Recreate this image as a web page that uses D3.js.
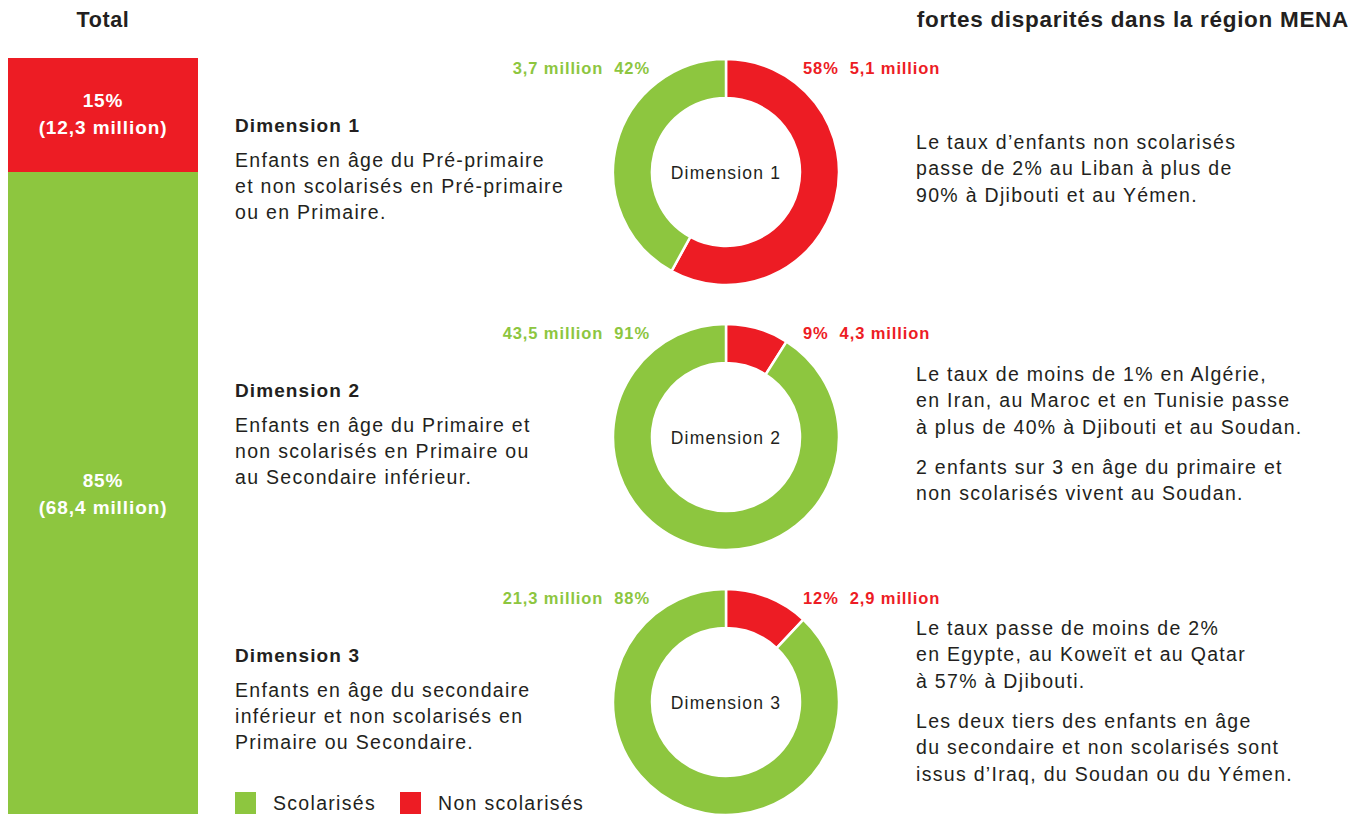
<!DOCTYPE html>
<html>
<head>
<meta charset="utf-8">
<script src="https://cdn.jsdelivr.net/npm/d3@7"></script>
<style>
  body { margin: 0; background: #fff; }
  svg { display: block; font-family: "Liberation Sans", Arial, sans-serif; }
  .body-text { font-size: 19.5px; letter-spacing: 1.3px; fill: #231f20; }
</style>
</head>
<body>
<div id="chart"></div>
<script>
// Dimensions shown as donuts
const categories = ["Dimension 1", "Dimension 2", "Dimension 3"];
const scolarisesPct = [42, 91, 88];
const nonScolarisesPct = [58, 9, 12];
const scolarisesMillions = ["3,7", "43,5", "21,3"];
const nonScolarisesMillions = ["5,1", "4,3", "2,9"];

// Total bar (non scolarisés, scolarisés)
const totalPct = [15, 85];
const totalMillions = ["12,3", "68,4"];

const descriptions = [
  ["Enfants en âge du Pré-primaire", "et non scolarisés en Pré-primaire", "ou en Primaire."],
  ["Enfants en âge du Primaire et", "non scolarisés en Primaire ou", "au Secondaire inférieur."],
  ["Enfants en âge du secondaire", "inférieur et non scolarisés en", "Primaire ou Secondaire."]
];
const notes = [
  [["Le taux d’enfants non scolarisés", "passe de 2% au Liban à plus de", "90% à Djibouti et au Yémen."]],
  [["Le taux de moins de 1% en Algérie,", "en Iran, au Maroc et en Tunisie passe", "à plus de 40% à Djibouti et au Soudan."],
   ["2 enfants sur 3 en âge du primaire et", "non scolarisés vivent au Soudan."]],
  [["Le taux passe de moins de 2%", "en Egypte, au Koweït et au Qatar", "à 57% à Djibouti."],
   ["Les deux tiers des enfants en âge", "du secondaire et non scolarisés sont", "issus d’Iraq, du Soudan ou du Yémen."]]
];
const legendLabels = ["Scolarisés", "Non scolarisés"];

const RED = "#ed1c24", GREEN = "#8dc63f", INK = "#231f20";
const W = 1365, H = 814;

const svg = d3.select("#chart").append("svg")
  .attr("width", W).attr("height", H);

// Titles
svg.append("text")
  .attr("x", 103).attr("y", 27)
  .attr("text-anchor", "middle")
  .style("font-size", "21.5px").style("font-weight", "bold").style("letter-spacing", "0.6px")
  .attr("fill", INK)
  .text("Total");

svg.append("text")
  .attr("x", 1349).attr("y", 27)
  .attr("text-anchor", "end")
  .style("font-size", "22.5px").style("font-weight", "bold").style("letter-spacing", "0.7px")
  .attr("fill", INK)
  .text("fortes disparités dans la région MENA");

// Total stacked bar
const yBar = d3.scaleLinear().domain([0, 100]).range([58, 818]);
const barSegs = [
  { start: 0, end: totalPct[0], color: RED, pct: totalPct[0], mil: totalMillions[0] },
  { start: totalPct[0], end: totalPct[0] + totalPct[1], color: GREEN, pct: totalPct[1], mil: totalMillions[1] }
];
const bar = svg.append("g");
bar.selectAll("rect").data(barSegs).enter().append("rect")
  .attr("x", 8).attr("width", 190)
  .attr("y", d => yBar(d.start))
  .attr("height", d => yBar(d.end) - yBar(d.start))
  .attr("fill", d => d.color);

const barLabels = bar.selectAll("text").data(barSegs).enter().append("text")
  .attr("text-anchor", "middle")
  .attr("fill", "#fff")
  .style("font-size", "19px").style("font-weight", "bold").style("letter-spacing", "0.9px")
  .attr("transform", (d, i) => `translate(103,${(yBar(d.start) + yBar(d.end)) / 2 - (i === 0 ? 8 : 8)})`);
barLabels.append("tspan").attr("x", 0).attr("y", 0).text(d => d.pct + "%");
barLabels.append("tspan").attr("x", 0).attr("y", 26.5).text(d => "(" + d.mil + " million)");

// Donuts
const cx = 726;
const centers = [172, 437, 702];
const rOuter = 113, rInner = 74;
const pie = d3.pie().sort(null).value(d => d.value);
const arc = d3.arc().innerRadius(rInner).outerRadius(rOuter);

categories.forEach((cat, i) => {
  const cy = centers[i];
  const g = svg.append("g").attr("transform", `translate(${cx},${cy})`);
  const slices = [
    { key: "non", value: nonScolarisesPct[i], color: RED },
    { key: "sco", value: scolarisesPct[i], color: GREEN }
  ];
  g.selectAll("path").data(pie(slices)).enter().append("path")
    .attr("d", arc)
    .attr("fill", d => d.data.color)
    .attr("stroke", "#fff")
    .attr("stroke-width", 2.5);

  g.append("text")
    .attr("text-anchor", "middle").attr("y", 6.5)
    .attr("fill", INK)
    .style("font-size", "17.5px").style("letter-spacing", "1.2px")
    .text(cat);

  // value labels
  g.append("text")
    .attr("x", -76).attr("y", -rOuter + 14.5)
    .attr("text-anchor", "end").attr("fill", GREEN)
    .style("font-size", "16.5px").style("font-weight", "bold").style("letter-spacing", "0.9px")
    .attr("xml:space", "preserve")
    .text(`${scolarisesMillions[i]} million  ${scolarisesPct[i]}%`);
  g.append("text")
    .attr("x", 77).attr("y", -rOuter + 14.5)
    .attr("text-anchor", "start").attr("fill", RED)
    .style("font-size", "16.5px").style("font-weight", "bold").style("letter-spacing", "0.9px")
    .attr("xml:space", "preserve")
    .text(`${nonScolarisesPct[i]}%  ${nonScolarisesMillions[i]} million`);

  // left description
  svg.append("text")
    .attr("x", 235).attr("y", cy - 40)
    .attr("fill", INK)
    .style("font-size", "19px").style("font-weight", "bold").style("letter-spacing", "1.1px")
    .text(cat);
  const desc = svg.append("text").attr("class", "body-text");
  descriptions[i].forEach((line, k) => {
    desc.append("tspan").attr("x", 235).attr("y", cy - 5.5 + k * 26.3).text(line);
  });
});

// Right notes (first baseline per block)
const noteTops = [149, 381, 635];
notes.forEach((paras, i) => {
  const t = svg.append("text").attr("class", "body-text");
  let y = noteTops[i];
  paras.forEach((para, p) => {
    if (p > 0) y += 14;
    para.forEach(line => {
      t.append("tspan").attr("x", 916).attr("y", y).text(line);
      y += 26.3;
    });
  });
});

// Legend
const legendColors = [GREEN, RED];
const legendX = [235, 400];
const legend = svg.append("g");
legendLabels.forEach((lab, i) => {
  legend.append("rect")
    .attr("x", legendX[i]).attr("y", 792)
    .attr("width", 21).attr("height", 22)
    .attr("fill", legendColors[i]);
  legend.append("text")
    .attr("class", "body-text")
    .attr("x", legendX[i] + 38).attr("y", 810)
    .text(lab);
});
</script>
</body>
</html>
